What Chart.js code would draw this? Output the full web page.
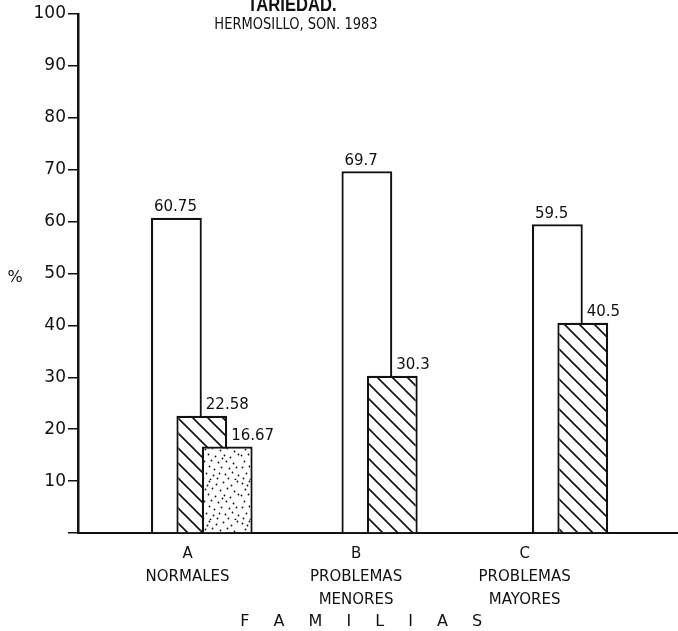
<!DOCTYPE html>
<html>
<head>
<meta charset="utf-8">
<script src="https://cdn.jsdelivr.net/npm/chart.js@4.4.1/dist/chart.umd.min.js"></script>
<style>
  html, body { margin: 0; padding: 0; background: #ffffff; }
  #chart { display: block; }
</style>
</head>
<body>
<canvas id="chart" width="678" height="631"></canvas>
<script>
// ---- data ----
const categoryPositions = [1, 2, 3];
const categoryLabels = [
  ['A', 'NORMALES'],
  ['B', 'PROBLEMAS', 'MENORES'],
  ['C', 'PROBLEMAS', 'MAYORES']
];
const seriesBlank   = [60.75, 69.7, 59.5];
const seriesHatched = [22.58, 30.3, 40.5];
const seriesDotted  = [16.67, null, null];
const yTickValues = [0, 10, 20, 30, 40, 50, 60, 70, 80, 90, 100];
const titleLine1 = 'TARIEDAD.';
const titleLine2 = 'HERMOSILLO, SON. 1983';
const yAxisLabel = '%';
const xAxisLabel = 'F A M I L I A S';

const INK = '#111111';

// ---- fill textures ----
function makeHatch() {
  const s = 15;
  const c = document.createElement('canvas');
  c.width = s; c.height = s;
  const g = c.getContext('2d');
  g.fillStyle = '#ffffff';
  g.fillRect(0, 0, s, s);
  g.strokeStyle = INK;
  g.lineWidth = 1.6;
  g.beginPath();
  g.moveTo(0, 0); g.lineTo(s, s);
  g.moveTo(-3, s - 3); g.lineTo(3, s + 3);
  g.moveTo(s - 3, -3); g.lineTo(s + 3, 3);
  g.stroke();
  return g.createPattern(c, 'repeat');
}
// fixed (hand-placed) stipple texture points in a 40x40 tile
const stippleDots = [
  [2, 3], [9, 1], [16, 4], [23, 2], [31, 5], [37, 1],
  [5, 9], [12, 8], [20, 10], [27, 8], [34, 11],
  [1, 15], [8, 14], [15, 16], [24, 15], [30, 17], [38, 14],
  [4, 21], [11, 20], [18, 22], [26, 21], [33, 23],
  [2, 27], [9, 26], [14, 29], [21, 27], [29, 28], [36, 27],
  [6, 33], [13, 35], [19, 33], [25, 34], [32, 32], [38, 35],
  [3, 38], [10, 39], [17, 38], [28, 38], [35, 39], [22, 18], [7, 5]
];
function makeStipple() {
  const s = 40;
  const c = document.createElement('canvas');
  c.width = s; c.height = s;
  const g = c.getContext('2d');
  g.fillStyle = '#ffffff';
  g.fillRect(0, 0, s, s);
  g.fillStyle = INK;
  stippleDots.forEach(([x, y]) => {
    g.beginPath();
    g.arc(x + 0.5, y + 0.5, 0.9, 0, Math.PI * 2);
    g.fill();
  });
  return g.createPattern(c, 'repeat');
}

// ---- plugins ----
const forwardDrawOrder = {
  id: 'forwardDrawOrder',
  beforeDatasetsDraw(chart) {
    chart.getSortedVisibleDatasetMetas().forEach(m => m.controller.draw());
    return false;
  }
};

const valueLabels = {
  id: 'valueLabels',
  afterDraw(chart) {
    const ctx = chart.ctx;
    ctx.save();
    ctx.font = '15px "DejaVu Sans"';
    ctx.fillStyle = INK;
    ctx.textAlign = 'left';
    ctx.textBaseline = 'bottom';
    chart.data.datasets.forEach((ds, di) => {
      const meta = chart.getDatasetMeta(di);
      meta.data.forEach((el, i) => {
        const v = ds.data[i];
        if (v === null || v === undefined) return;
        const x = di === 0 ? el.x - el.width / 2 + 3 : el.x + 4;
        ctx.fillText(String(v), x, el.y - 3);
      });
    });
    ctx.restore();
  }
};

function drawScaled(ctx, text, cx, y, font, sx, baseline) {
  ctx.save();
  ctx.font = font;
  ctx.textAlign = 'center';
  ctx.textBaseline = baseline;
  ctx.translate(cx, y);
  ctx.scale(sx, 1);
  ctx.fillText(text, 0, 0);
  ctx.restore();
}

const extraText = {
  id: 'extraText',
  afterDraw(chart) {
    const ctx = chart.ctx;
    ctx.save();
    ctx.fillStyle = INK;
    drawScaled(ctx, titleLine1, 292, 11, 'bold 21px "Liberation Sans"', 0.79, 'alphabetic');
    drawScaled(ctx, titleLine2, 296, 28.5, '15px "DejaVu Sans"', 0.87, 'alphabetic');
    drawScaled(ctx, yAxisLabel, 15, 278, '16px "DejaVu Sans"', 1, 'middle');
    ctx.save();
    try { ctx.letterSpacing = '9.5px'; } catch (e) {}
    drawScaled(ctx, xAxisLabel, 366, 622, '16px "DejaVu Sans"', 1, 'middle');
    ctx.restore();
    ctx.restore();
  }
};

// ---- chart ----
new Chart(document.getElementById('chart'), {
  type: 'bar',
  data: {
    labels: categoryPositions,
    datasets: [
      {
        label: 'Serie 1',
        data: seriesBlank,
        backgroundColor: '#ffffff',
        borderColor: INK,
        borderWidth: 2.2,
        categoryPercentage: 0.4,
        barPercentage: 2
      },
      {
        label: 'Serie 2',
        data: seriesHatched,
        backgroundColor: makeHatch(),
        borderColor: INK,
        borderWidth: 2.2,
        categoryPercentage: 0.4,
        barPercentage: 2
      },
      {
        label: 'Serie 3',
        data: seriesDotted,
        backgroundColor: makeStipple(),
        borderColor: INK,
        borderWidth: 2.2,
        categoryPercentage: 0.4,
        barPercentage: 2
      }
    ]
  },
  options: {
    responsive: false,
    animation: false,
    events: [],
    layout: { padding: { top: 14, left: 0, right: 0, bottom: 0 } },
    plugins: {
      legend: { display: false },
      tooltip: { enabled: false },
      title: { display: false }
    },
    scales: {
      x: {
        type: 'linear',
        display: false,
        offset: false,
        min: 0.35,
        max: 3.5,
        afterBuildTicks: s => { s.ticks = categoryPositions.map(v => ({ value: v })); }
      },
      x2: {
        type: 'linear',
        axis: 'x',
        position: 'bottom',
        offset: false,
        min: 0.35,
        max: 3.91,
        afterBuildTicks: s => { s.ticks = categoryPositions.map(v => ({ value: v })); },
        afterFit: s => { s.height = 98; },
        grid: { display: false, drawTicks: false },
        border: { display: true, color: INK, width: 2 },
        ticks: {
          autoSkip: false,
          maxRotation: 0,
          padding: 9.5,
          color: INK,
          font: { family: 'DejaVu Sans', size: 15, lineHeight: 1.53 },
          callback: (v, i) => categoryLabels[i]
        }
      },
      y: {
        type: 'linear',
        position: 'left',
        min: 0,
        max: 100,
        afterBuildTicks: s => { s.ticks = yTickValues.map(v => ({ value: v })); },
        afterFit: s => { s.width = 78; },
        grid: { drawOnChartArea: false, drawTicks: true, tickLength: 10, color: INK, lineWidth: 1.5 },
        border: { display: true, color: INK, width: 2.5 },
        ticks: {
          padding: 2,
          color: INK,
          font: { family: 'DejaVu Sans', size: 17 },
          callback: v => (v === 0 ? '' : String(v))
        }
      }
    }
  },
  plugins: [forwardDrawOrder, valueLabels, extraText]
});
</script>
</body>
</html>
